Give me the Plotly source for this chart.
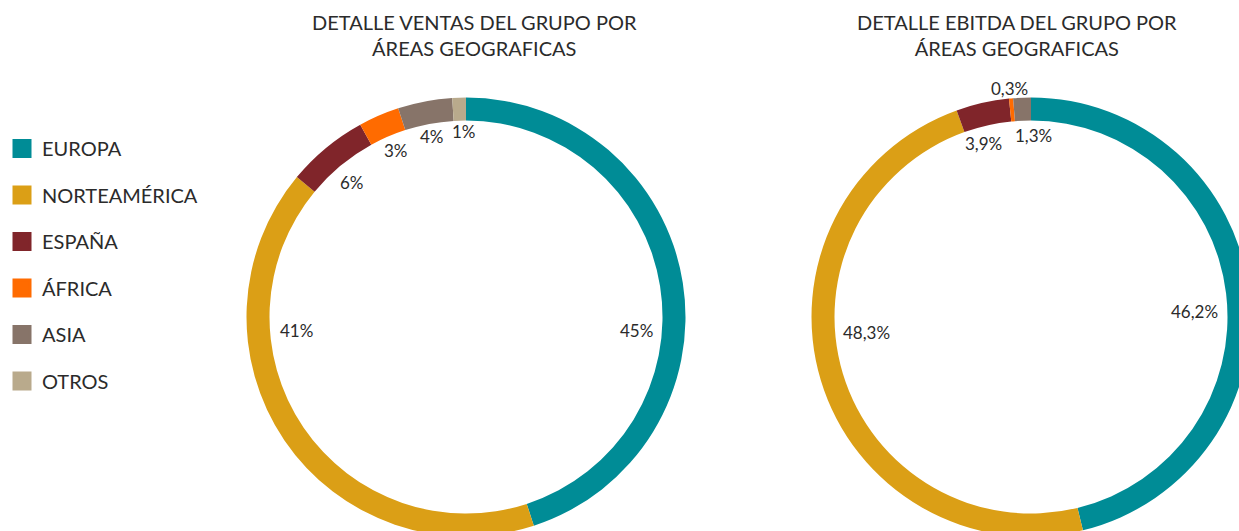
import plotly.graph_objects as go

# ---------------- data ----------------
regions = ["EUROPA", "NORTEAMÉRICA", "ESPAÑA", "ÁFRICA", "ASIA", "OTROS"]
colors = ["#008C96", "#DB9F16", "#80252A", "#FF6B00", "#877469", "#B9AA8C"]
ventas = [45, 41, 6, 3, 4, 1]
ventas_text = ["45%", "41%", "6%", "3%", "4%", "1%"]
ebitda = [46.2, 48.3, 3.9, 0.3, 1.3, 0]
ebitda_text = ["46,2%", "48,3%", "3,9%", "0,3%", "1,3%", ""]
titles = ["DETALLE VENTAS DEL GRUPO POR<br>ÁREAS GEOGRAFICAS",
          "DETALLE EBITDA DEL GRUPO POR<br>ÁREAS GEOGRAFICAS"]

# ---------------- layout geometry (pixels) ----------------
W, H = 1252, 540
FONT = "Lato"
TXT = "#2b2b2b"
R = 219.5
centers = [(466, 317), (1031, 317)]
title_pos = [(474, 35), (1017, 35)]
ventas_lpos = [(636, 330), (296, 330), (352, 182), (396, 150), (432, 136), (464, 131)]
ebitda_lpos = [(1194, 312), (866, 332), (983, 143), (1009, 88), (1033, 135), (0, 0)]


def px(x):
    return x / W


def py(y):
    return (H - y) / H


fig = go.Figure()

for (cx, cy), vals in zip(centers, [ventas, ebitda]):
    fig.add_trace(go.Pie(
        labels=regions, values=vals,
        marker=dict(colors=colors, line=dict(width=0)),
        hole=196.5 / 219.5, sort=False, direction="clockwise", rotation=0,
        textinfo="none", hoverinfo="label+percent", showlegend=False,
        domain=dict(x=[px(cx - R), px(cx + R)], y=[py(cy + R), py(cy - R)]),
    ))

# legend via dummy traces
for i, (name, col) in enumerate(zip(regions, colors)):
    fig.add_trace(go.Scatter(
        x=[None], y=[None], mode="markers", name=name, legendgroup=name,
        marker=dict(symbol="square", size=17, color=col, line=dict(width=3, color=col)),
    ))

annotations = []
for (tx, ty), t in zip(title_pos, titles):
    annotations.append(dict(
        x=px(tx), y=py(ty), xref="paper", yref="paper", text=t, showarrow=False,
        xanchor="center", yanchor="middle", align="center",
        font=dict(family=FONT, size=20, color=TXT)))
for texts, pos in [(ventas_text, ventas_lpos), (ebitda_text, ebitda_lpos)]:
    for t, (lx, ly) in zip(texts, pos):
        if not t:
            continue
        annotations.append(dict(
            x=px(lx), y=py(ly), xref="paper", yref="paper", text=t, showarrow=False,
            xanchor="center", yanchor="middle",
            font=dict(family=FONT, size=17, color=TXT)))

fig.update_layout(
    width=W, height=H,
    margin=dict(l=0, r=0, t=0, b=0),
    paper_bgcolor="white", plot_bgcolor="white",
    xaxis=dict(visible=False), yaxis=dict(visible=False),
    annotations=annotations,
    showlegend=True,
    legend=dict(x=px(2), y=py(129), xanchor="left", yanchor="top",
                font=dict(family=FONT, size=20, color=TXT),
                tracegroupgap=17.5, itemclick=False, itemdoubleclick=False,
                bgcolor="rgba(0,0,0,0)"),
    font=dict(family=FONT, color=TXT),
)

fig.write_html("out.html", config={"displayModeBar": False},
               post_script="document.body.style.margin='0';document.body.style.overflow='hidden';")
